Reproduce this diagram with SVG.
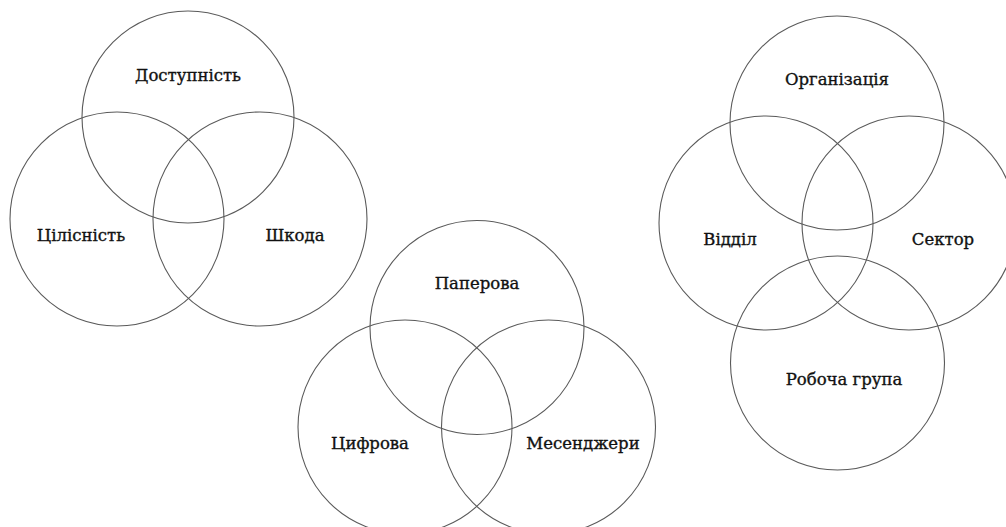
<svg xmlns="http://www.w3.org/2000/svg" width="1006" height="527" viewBox="0 0 1006 527">
<style>
.c{fill:none;stroke:#5a5a5a;stroke-width:1.1}
.t{font-family:"DejaVu Serif","Liberation Serif",serif;font-size:16.5px;fill:#111;text-anchor:middle;stroke:#111;stroke-width:0.35}
</style>
<rect width="1006" height="527" fill="#fff"/>
<g id="venn-left">
<g id="dostupnist"><circle class="c" cx="188" cy="117" r="106"/><text class="t" x="188" y="81">Доступність</text></g>
<g id="tsilisnist"><circle class="c" cx="117" cy="219" r="107"/><text class="t" x="81" y="241">Цілісність</text></g>
<g id="shkoda"><circle class="c" cx="260" cy="219" r="107"/><text class="t" x="295" y="241">Шкода</text></g>
</g>
<g id="venn-middle">
<g id="paperova"><circle class="c" cx="477" cy="327.5" r="107"/><text class="t" x="477" y="289">Паперова</text></g>
<g id="tsyfrova"><circle class="c" cx="405" cy="427" r="107"/><text class="t" x="370" y="449">Цифрова</text></g>
<g id="mesendzhery"><circle class="c" cx="548.5" cy="427" r="107"/><text class="t" x="583" y="449">Месенджери</text></g>
</g>
<g id="venn-right">
<g id="orhanizatsiia"><circle class="c" cx="837" cy="123" r="107"/><text class="t" x="837" y="85">Організація</text></g>
<g id="viddil"><circle class="c" cx="766" cy="223" r="107"/><text class="t" x="730" y="245">Відділ</text></g>
<g id="sektor"><circle class="c" cx="909" cy="223" r="107"/><text class="t" x="943" y="245">Сектор</text></g>
<g id="robocha-hrupa"><circle class="c" cx="837.5" cy="363" r="107"/><text class="t" x="844" y="385">Робоча група</text></g>
</g>
<g id="connectors"/>
</svg>
